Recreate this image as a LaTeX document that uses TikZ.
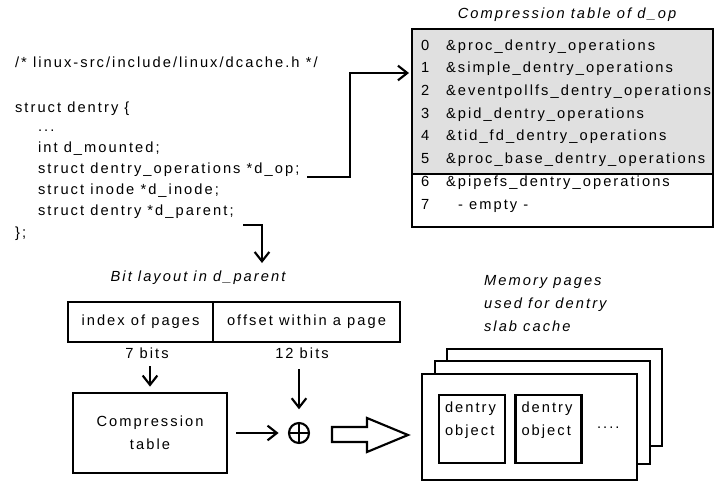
\documentclass[tikz,border=0pt]{standalone}
\usepackage{fontspec}
\setmainfont{Liberation Sans}[LetterSpace=14]
\usetikzlibrary{arrows.meta}

\begin{document}
\begin{tikzpicture}[x=0.75pt, y=-0.75pt, line width=1.6pt,
    every node/.style={font=\fontsize{11}{13}\selectfont, inner sep=0pt},
    code/.style={anchor=base west},
    caption/.style={anchor=base, font=\fontsize{11}{13}\selectfont\itshape},
    arr/.style={-{Straight Barb[length=7pt,width=11pt]}},
    bitbox/.style={draw, minimum height=30pt},
    objbox/.style={draw, fill=white, minimum width=49.5pt, minimum height=51pt}]
    \useasboundingbox (0,0) rectangle (714,482);

    % Source of struct dentry
    \node[code] (hdr) at (14,67) {/* linux-src/include/linux/dcache.h */};
    \node[code] (sopen) at (14,112) {struct dentry \{};
    \node[code] (dots) at (37,131) {...};
    \node[code] (mnt) at (37,152) {int d\_mounted;};
    \node[code] (dop) at (37,173) {struct dentry\_operations *d\_op;};
    \node[code] (dinode) at (37,194) {struct inode *d\_inode;};
    \node[code] (dparent) at (37,215) {struct dentry *d\_parent;};
    \node[code] (sclose) at (14,237) {\};};

    % Compression table of d_op
    \node[caption] (ttitle) at (567,18) {Compression table of d\_op};
    \fill[black!12] (412,29) rectangle (713,174);
    \draw (412,29) rectangle (713,227);
    \draw (412,174) -- (713,174);
    \foreach \i/\ops in {0/proc, 1/simple, 2/eventpollfs, 3/pid, 4/tid\_fd, 5/proc\_base, 6/pipefs}
    {
      \node[code] (num\i) at (420,50+22.7*\i) {\i};
      \node[code] (row\i) at (445,50+22.7*\i) {\&\ops\_dentry\_operations};
    }
    \node[code] (num7) at (420,209) {7};
    \node[code] (row7) at (457,209) {- empty -};

    % d_op points into the table
    \coordinate (opbend) at (350,73);
    \coordinate (tin) at (409,73);
    \draw[arr] (307,177) -| (opbend) -- (tin);

    % d_parent goes down to the bit layout
    \coordinate (pdown) at (262,263);
    \draw[arr] (243,225) -| (pdown);

    % Bit layout
    \node[caption] (bitcap) at (198,281) {Bit layout in d\_parent};
    \node[bitbox, minimum width=108.75pt] (idx) at (140.5,322) {index of pages};
    \node[bitbox, minimum width=140.25pt] (ofs) at (306.5,322) {offset within a page};
    \node (b7) at (147,353) {7 bits};
    \node (b12) at (302,353) {12 bits};

    \node[draw, minimum width=115.5pt, minimum height=60pt, align=center,
      font=\fontsize{11}{17.25}\selectfont] (ctab) at (150,433) {Compression\\table};
    \node[circle, draw, minimum size=15pt,
      path picture={\draw (path picture bounding box.north) -- (path picture bounding box.south)
        (path picture bounding box.west) -- (path picture bounding box.east);}] (xor) at (299,433) {};

    \draw[arr] ([yshift=-5pt]b7.south -| ctab.north) -- ([yshift=4pt]ctab.north);
    \draw[arr] ([yshift=-7.5pt]b12.south -| xor.north) -- ([yshift=9.5pt]xor.north);
    \draw[arr] ([xshift=6pt]ctab.east) -- ([xshift=-7pt]xor.west);

    % Hollow arrow to the pages
    \draw (332,427) -- (367,427) -- (367,418) -- (408,435) -- (367,452) -- (367,442) -- (332,442) -- cycle;

    % Memory pages of the slab cache
    \foreach \ln [count=\k from 0] in {Memory pages, used for dentry, slab cache}
      \node[caption, anchor=base west] (mem\k) at (483,285+23*\k) {\ln};
    \draw[fill=white] (447,349) rectangle (662,446);
    \draw[fill=white] (435,361) rectangle (650,464);
    \draw[fill=white] (422,374) rectangle (637,480);

    \node[objbox] (obj1) at (472,429) {};
    \node[objbox] (obj2) at (548.5,429) {};
    \foreach \o in {obj1, obj2}
    {
      \node[code] (\o-a) at ([shift={(6,19)}]\o.north west) {dentry};
      \node[code] (\o-b) at ([shift={(6,42)}]\o.north west) {object};
    }
    \node[code] (more) at (596,428) {....};
  \end{tikzpicture}
\end{document}
